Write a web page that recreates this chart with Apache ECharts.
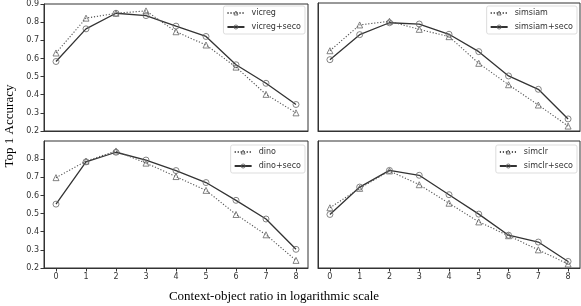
<!DOCTYPE html>
<html><head><meta charset="utf-8">
<script src="https://cdn.jsdelivr.net/npm/echarts@6/dist/echarts.min.js"></script>
<style>html,body{margin:0;padding:0;background:#fff}#c{width:581px;height:306px}</style>
</head><body><div id="c"></div>
<script>
var xValues = [0, 1, 2, 3, 4, 5, 6, 7, 8];
var yTicks = [0.2, 0.3, 0.4, 0.5, 0.6, 0.7, 0.8, 0.9];

var vicreg      = [0.630, 0.822, 0.849, 0.862, 0.747, 0.674, 0.552, 0.402, 0.300];
var vicregSeco  = [0.583, 0.763, 0.849, 0.836, 0.778, 0.721, 0.565, 0.463, 0.346];
var simsiam     = [0.639, 0.780, 0.800, 0.756, 0.716, 0.570, 0.453, 0.342, 0.227];
var simsiamSeco = [0.590, 0.727, 0.792, 0.785, 0.729, 0.634, 0.501, 0.428, 0.266];
var dino        = [0.698, 0.789, 0.845, 0.778, 0.704, 0.628, 0.495, 0.383, 0.242];
var dinoSeco    = [0.552, 0.785, 0.838, 0.795, 0.737, 0.671, 0.573, 0.470, 0.303];
var simclr      = [0.532, 0.639, 0.735, 0.659, 0.557, 0.454, 0.378, 0.300, 0.222];
var simclrSeco  = [0.495, 0.646, 0.738, 0.711, 0.604, 0.497, 0.381, 0.343, 0.236];

var panels = [
  {names: ['vicreg', 'vicreg+seco'], data: [vicreg, vicregSeco], grid: {left: 44, top: 3, width: 264, height: 128}, xl: false, yl: true, legend: {right: 276, top: 6}},
  {names: ['simsiam', 'simsiam+seco'], data: [simsiam, simsiamSeco], grid: {left: 318, top: 3, width: 262, height: 128}, xl: false, yl: false, legend: {right: 4, top: 6}},
  {names: ['dino', 'dino+seco'], data: [dino, dinoSeco], grid: {left: 44, top: 141, width: 264, height: 127}, xl: true, yl: true, hideTop: true, legend: {right: 276, top: 145}},
  {names: ['simclr', 'simclr+seco'], data: [simclr, simclrSeco], grid: {left: 318, top: 141, width: 262, height: 127}, xl: true, yl: false, legend: {right: 4, top: 145}}
];

var tickFont = {fontFamily: 'DejaVu Sans', fontSize: 8, color: '#333'};
var option = {animation: false, backgroundColor: '#fff', grid: [], xAxis: [], yAxis: [], series: [], legend: [], graphic: []};

panels.forEach(function (p, i) {
  option.grid.push(Object.assign({show: true, borderColor: '#333', borderWidth: 1, backgroundColor: 'transparent'}, p.grid));
  option.xAxis.push({
    type: 'value', gridIndex: i, min: -0.4, max: 8.4,
    axisLine: {show: true, onZero: false, lineStyle: {color: '#333'}},
    axisTick: {show: p.xl, customValues: xValues, length: 3.5, lineStyle: {color: '#333'}},
    axisLabel: Object.assign({show: p.xl, customValues: xValues, margin: 5, formatter: function (v) { return String(v); }}, tickFont),
    splitLine: {show: false}
  });
  option.yAxis.push({
    type: 'value', gridIndex: i, min: 0.2, max: 0.9,
    axisLine: {show: true, onZero: false, lineStyle: {color: '#333'}},
    axisTick: {show: p.yl, customValues: p.hideTop ? yTicks.slice(0, 7) : yTicks, length: 3.5, lineStyle: {color: '#333'}},
    axisLabel: Object.assign({show: p.yl, customValues: p.hideTop ? yTicks.slice(0, 7) : yTicks, margin: 5, formatter: function (v) { return v.toFixed(1); }}, tickFont),
    splitLine: {show: false}
  });
  var legendData = [];
  p.names.forEach(function (n, k) {
    var pts = xValues.map(function (x, j) { return [x, p.data[k][j]]; });
    var dotted = k === 0;
    option.series.push({
      type: 'line', name: n, xAxisIndex: i, yAxisIndex: i, data: pts,
      symbol: dotted ? 'triangle' : 'circle',
      symbolSize: 6,
      lineStyle: {color: dotted ? '#555' : '#333', width: dotted ? 1.1 : 1.3, type: dotted ? [1.2, 1.8] : 'solid'},
      itemStyle: {color: 'rgba(255,255,255,0)', borderColor: '#666', borderWidth: 0.8},
      z: dotted ? 3 : 2
    });
    legendData.push({name: n, itemStyle: {color: 'rgba(255,255,255,0)', borderColor: '#555', borderWidth: 0.8}});
  });
  option.legend.push({
    data: legendData, orient: 'vertical', right: p.legend.right, top: p.legend.top,
    itemWidth: 17, itemHeight: 5, itemGap: 6,
    padding: [3, 4, 3, 3], borderColor: '#ddd', borderWidth: 1, borderRadius: 2,
    backgroundColor: 'rgba(255,255,255,0.8)',
    textStyle: {fontFamily: 'DejaVu Sans', fontSize: 8, color: '#333', padding: [0, 0, 0, 2]}
  });
});

option.graphic = [
  {type: 'text', x: 10, y: 126, rotation: Math.PI / 2,
   style: {text: 'Top 1 Accuracy', font: '13px "Liberation Serif"', fill: '#000', textAlign: 'center', textVerticalAlign: 'middle'}},
  {type: 'text', x: 274, y: 297,
   style: {text: 'Context-object ratio in logarithmic scale', font: '13px "Liberation Serif"', fill: '#000', textAlign: 'center', textVerticalAlign: 'middle'}}
];

var chart = echarts.init(document.getElementById('c'), null, {renderer: 'canvas'});
chart.setOption(option);
</script></body></html>
